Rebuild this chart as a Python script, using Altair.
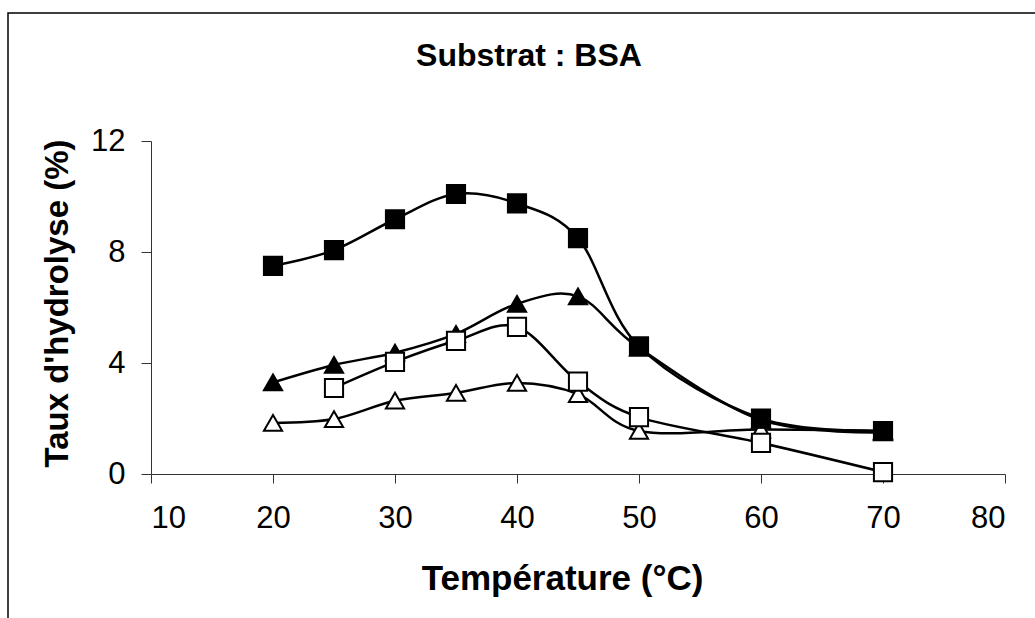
import altair as alt
import pandas as pd

# ---- data ----
temps = [20, 25, 30, 35, 40, 45, 50, 60, 70]
open_triangles = [1.84, 1.98, 2.64, 2.92, 3.28, 2.88, 1.55, 1.60, 1.55]
filled_triangles = [3.30, 3.93, 4.37, 5.05, 6.13, 6.40, 4.55, 1.95, 1.50]
open_square_temps = [25, 30, 35, 40, 45, 50, 60, 70]
open_squares = [3.10, 4.04, 4.80, 5.30, 3.33, 2.05, 1.12, 0.07]
filled_squares = [7.50, 8.07, 9.18, 10.09, 9.75, 8.50, 4.60, 2.00, 1.55]

series_names = ["open_tri", "filled_tri", "open_sq", "filled_sq"]
shapes = ["triangle-up", "triangle-up", "square", "square"]
fills = ["white", "black", "white", "black"]
sizes = [330, 330, 220, 220]

x_ticks = [10, 20, 30, 40, 50, 60, 70, 80]
y_ticks = [0, 4, 8, 12]

rows = []
for t, v in zip(temps, open_triangles):
    rows.append({"T": t, "v": v, "s": "open_tri", "o": 0})
for t, v in zip(temps, filled_triangles):
    rows.append({"T": t, "v": v, "s": "filled_tri", "o": 1})
for t, v in zip(open_square_temps, open_squares):
    rows.append({"T": t, "v": v, "s": "open_sq", "o": 2})
for t, v in zip(temps, filled_squares):
    rows.append({"T": t, "v": v, "s": "filled_sq", "o": 3})
df = pd.DataFrame(rows)

FONT = "Liberation Sans"

x_enc = alt.X(
    "T:Q",
    scale=alt.Scale(domain=[10, 80], nice=False, zero=False),
    axis=alt.Axis(
        values=x_ticks, title="Température (°C)", grid=False,
        labelFontSize=31, labelFont=FONT, labelColor="black", labelPadding=20,
        tickSize=9, tickColor="#333", domainColor="#333", domainWidth=1, tickWidth=1,
        titleFont=FONT, titleFontSize=35, titleFontWeight="bold", titleColor="black",
        titleBaseline="alphabetic", titleAlign="center", titleX=411, titleY=115,
    ),
)
y_enc = alt.Y(
    "v:Q",
    scale=alt.Scale(domain=[0, 12], nice=False),
    axis=alt.Axis(
        values=y_ticks, title="Taux d'hydrolyse (%)", grid=False,
        labelFontSize=31, labelFont=FONT, labelColor="black", labelPadding=16,
        tickSize=10, tickColor="#333", domainColor="#333", domainWidth=1, tickWidth=1,
        titleFont=FONT, titleFontSize=33, titleFontWeight="bold", titleColor="black",
        titleBaseline="alphabetic", titleAlign="center", titleX=-84, titleY=162,
        titleAngle=270,
    ),
)

lines = alt.Chart(df).mark_line(
    color="black", strokeWidth=2.5, interpolate="cardinal", tension=0
).encode(x=x_enc, y=y_enc, detail="s:N", order="T:Q")

points = alt.Chart(df).mark_point(
    filled=True, stroke="black", strokeWidth=2, opacity=1
).encode(
    x="T:Q",
    y="v:Q",
    shape=alt.Shape("s:N", scale=alt.Scale(domain=series_names, range=shapes), legend=None),
    fill=alt.Fill("s:N", scale=alt.Scale(domain=series_names, range=fills), legend=None),
    size=alt.Size("s:N", scale=alt.Scale(domain=series_names, range=sizes), legend=None),
    order="o:Q",
)

frame_df = pd.DataFrame({"k": [0]})
frame = alt.Chart(frame_df).mark_rect(
    filled=False, stroke="black", strokeWidth=1.5
).encode(
    x=alt.value(-143), x2=alt.value(900), y=alt.value(-128), y2=alt.value(500)
)

title = alt.Chart(frame_df).mark_text(
    text="Substrat : BSA", font=FONT, fontSize=32, fontWeight="bold",
    align="center", baseline="alphabetic", color="black"
).encode(x=alt.value(378), y=alt.value(-75))

chart = alt.layer(frame, title, lines, points).properties(
    width=854, height=333,
    padding={"left": 151, "top": 141, "right": 30, "bottom": 144},
    autosize=alt.AutoSizeParams(type="none"),
    background="white",
).configure_view(stroke=None)

chart.save("out.html", embed_options={"renderer": "svg", "actions": False})
